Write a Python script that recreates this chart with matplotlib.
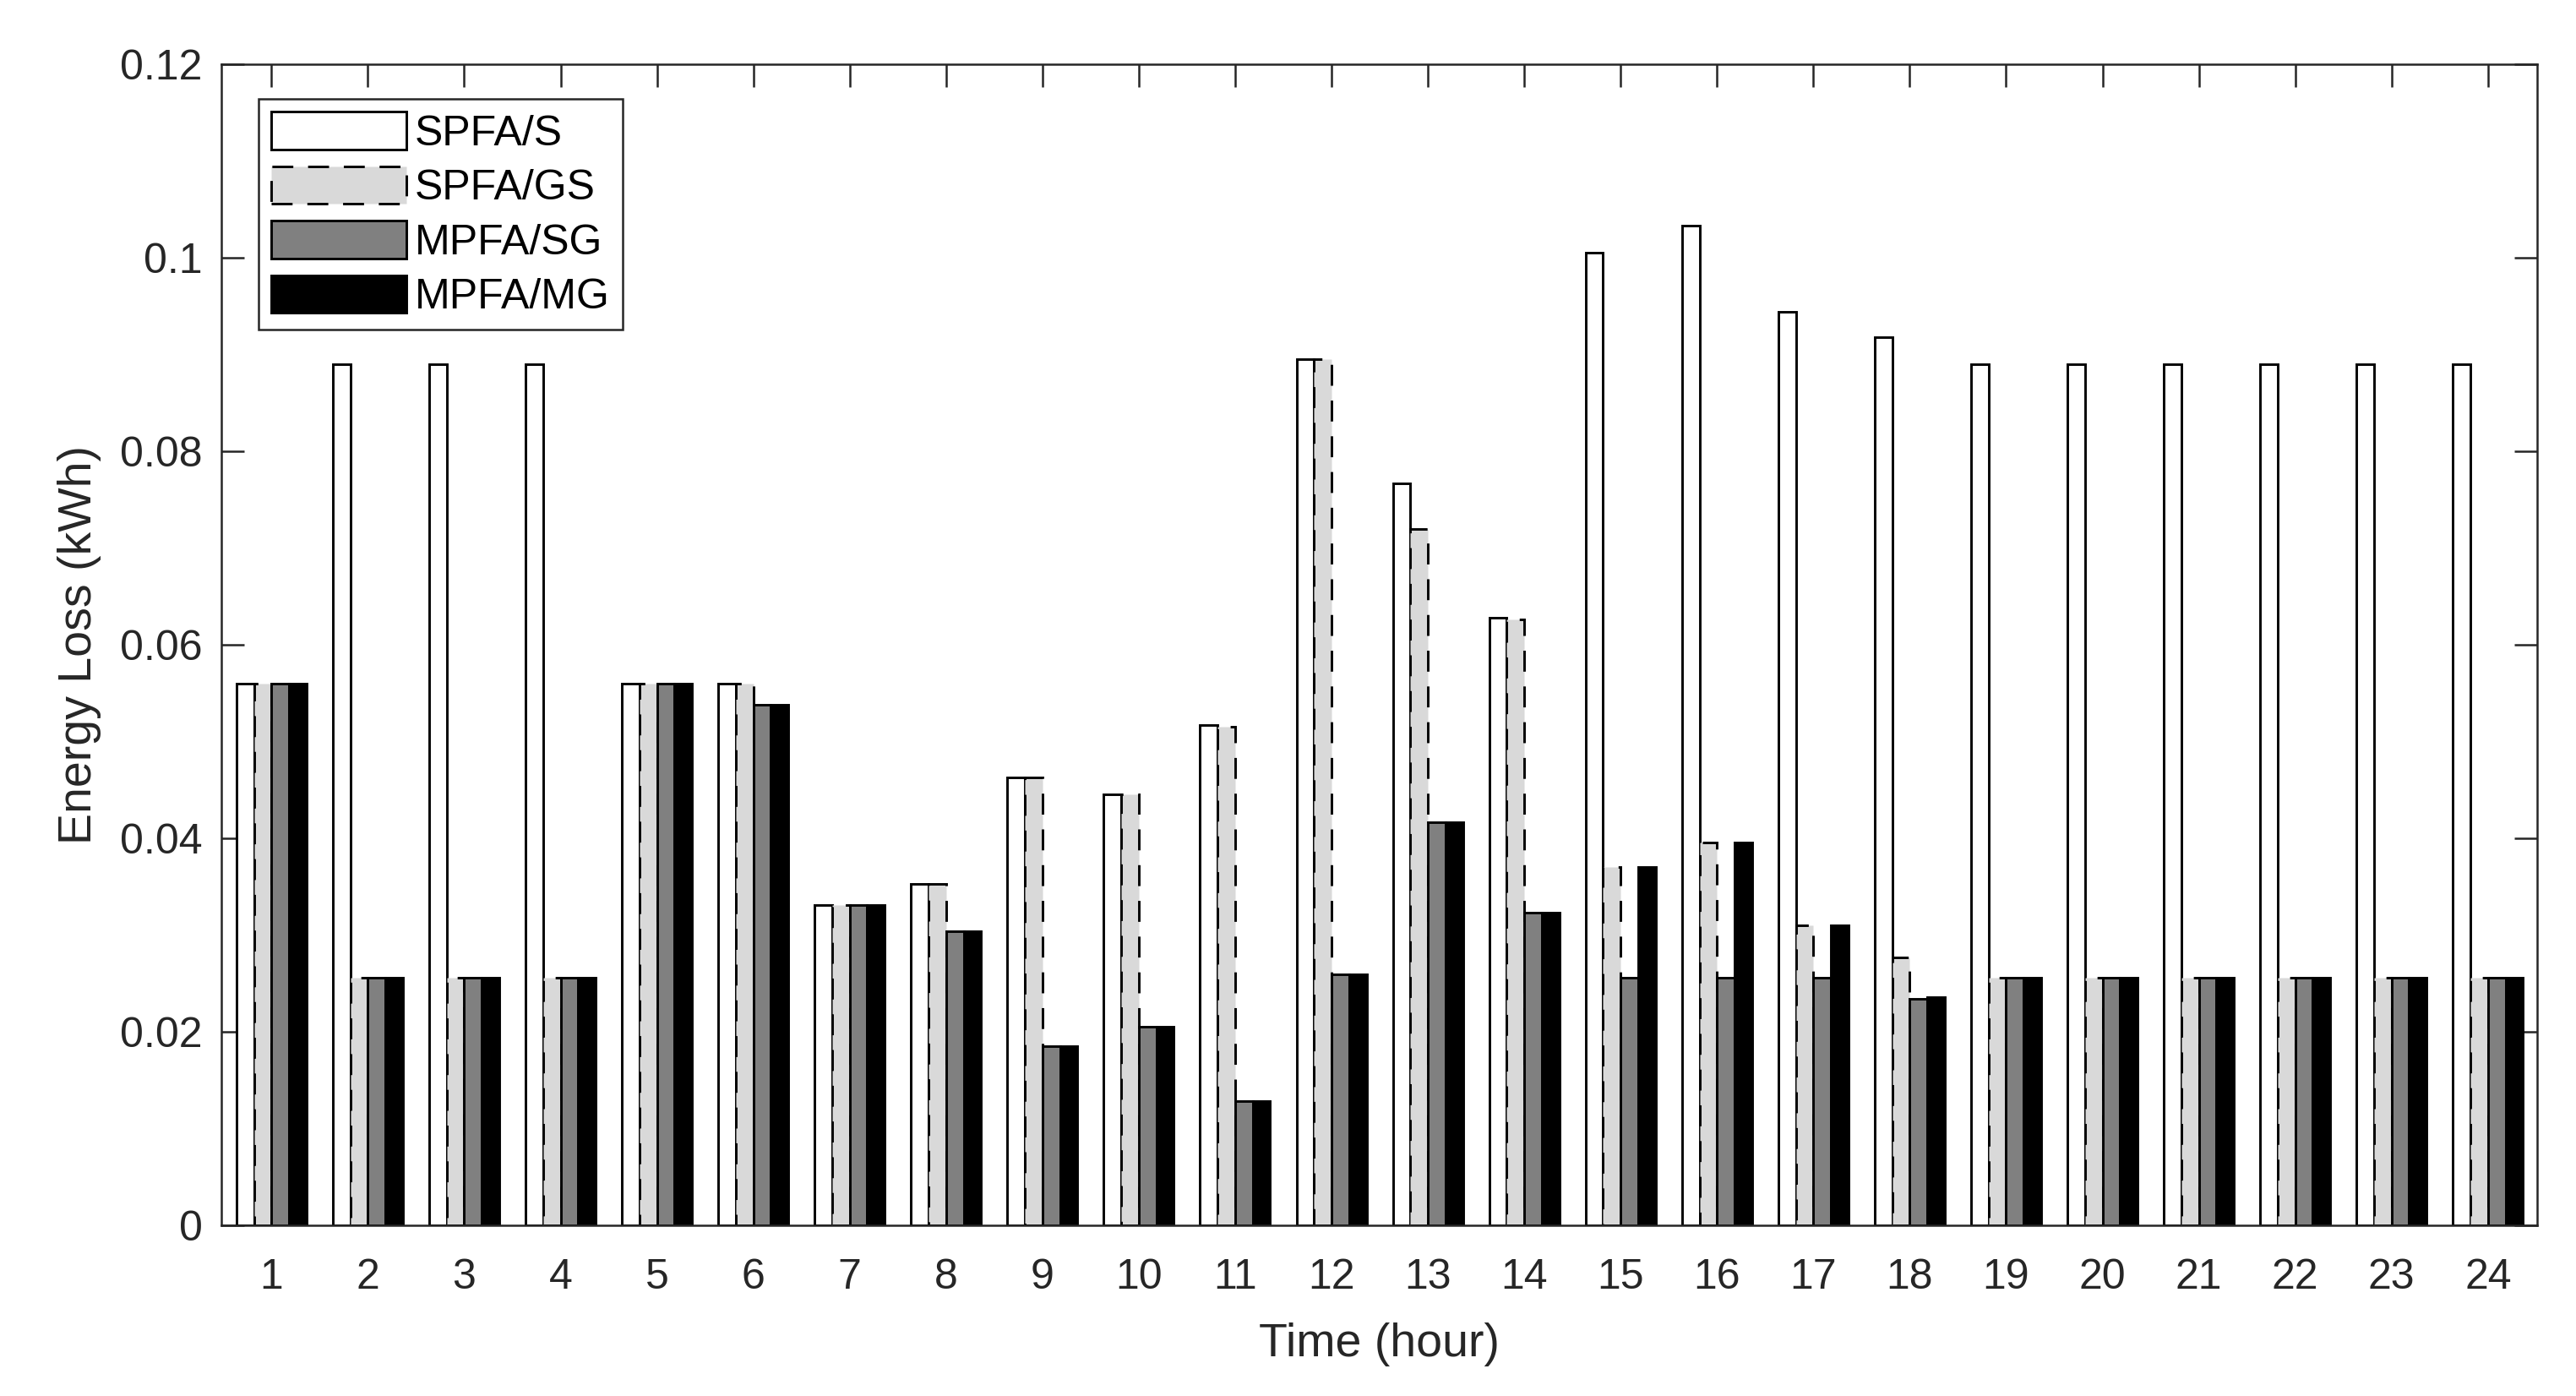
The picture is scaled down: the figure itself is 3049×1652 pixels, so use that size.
import numpy as np
import matplotlib
matplotlib.use("Agg")
import matplotlib.pyplot as plt

plt.rcParams['font.family'] = ['Liberation Sans', 'DejaVu Sans']

hours = list(range(1, 25))
series_names = ["SPFA/S", "SPFA/GS", "MPFA/SG", "MPFA/MG"]

spfa_s = [0.0560, 0.0890, 0.0890, 0.0890, 0.0560, 0.0560, 0.0331, 0.0353,
          0.0463, 0.0445, 0.0517, 0.0895, 0.0767, 0.0628, 0.1005, 0.1033,
          0.0944, 0.0918, 0.0890, 0.0890, 0.0890, 0.0890, 0.0890, 0.0890]
spfa_gs = [0.0560, 0.0256, 0.0256, 0.0256, 0.0560, 0.0560, 0.0331, 0.0353,
           0.0463, 0.0445, 0.0515, 0.0895, 0.0720, 0.0626, 0.0370, 0.0396,
           0.0310, 0.0277, 0.0256, 0.0256, 0.0256, 0.0256, 0.0256, 0.0256]
mpfa_sg = [0.0560, 0.0256, 0.0256, 0.0256, 0.0560, 0.0538, 0.0331, 0.0304,
           0.0185, 0.0205, 0.0128, 0.0259, 0.0417, 0.0323, 0.0256, 0.0256,
           0.0256, 0.0234, 0.0256, 0.0256, 0.0256, 0.0256, 0.0256, 0.0256]
mpfa_mg = [0.0560, 0.0256, 0.0256, 0.0256, 0.0560, 0.0538, 0.0331, 0.0304,
           0.0185, 0.0205, 0.0128, 0.0259, 0.0417, 0.0323, 0.0370, 0.0396,
           0.0310, 0.0236, 0.0256, 0.0256, 0.0256, 0.0256, 0.0256, 0.0256]

yticks = [0, 0.02, 0.04, 0.06, 0.08, 0.1, 0.12]
ytick_labels = ["0", "0.02", "0.04", "0.06", "0.08", "0.1", "0.12"]

fig = plt.figure(figsize=(3049/200, 1652/200), dpi=200)
ax = fig.add_axes([262/3049, 1-1450/1652, (3003-262)/3049, (1450-76)/1652])

x = np.array(hours, dtype=float)
gw = 4/5.5
bw = gw/4
styles = [
    dict(facecolor='white', edgecolor='black', linewidth=1.05, linestyle='-'),
    dict(facecolor='#d9d9d9', edgecolor='black', linewidth=1.05, linestyle=(0, (8.5, 6))),
    dict(facecolor='#808080', edgecolor='black', linewidth=1.05, linestyle='-'),
    dict(facecolor='black', edgecolor='black', linewidth=1.05, linestyle='-'),
]
data = [spfa_s, spfa_gs, mpfa_sg, mpfa_mg]
for i, (vals, name, st) in enumerate(zip(data, series_names, styles)):
    ax.bar(x + (i - 1.5)*bw, vals, width=bw, label=name, zorder=2, **st)

ax.set_xlim(0.48, 24.51)
ax.set_ylim(0, 0.12)
ax.set_xticks(hours)
ax.set_xticklabels([str(h) for h in hours])
ax.set_yticks(yticks)
ax.set_yticklabels(ytick_labels)

tc = '#262626'
for s in ax.spines.values():
    s.set_color(tc)
    s.set_linewidth(0.9)
ax.tick_params(axis='both', direction='in', top=True, right=True, length=9.7,
               width=0.9, color=tc, labelcolor=tc, labelsize=18)
ax.tick_params(axis='x', pad=14)
ax.tick_params(axis='y', pad=8)

ax.set_xlabel("Time (hour)", fontsize=20, color=tc, labelpad=11)
ax.set_ylabel("Energy Loss (kWh)", fontsize=20, color=tc, labelpad=8)

leg = ax.legend(loc='upper left', bbox_to_anchor=(0.016, 0.970), borderaxespad=0,
                fontsize=18, handlelength=3.2, handleheight=1.0, handletextpad=0.2,
                labelspacing=0.3, borderpad=0.3, fancybox=False, framealpha=1,
                edgecolor=tc)
leg.get_frame().set_linewidth(0.9)
for t in leg.get_texts():
    t.set_color('black')

fig.savefig("out.png", dpi=200)
